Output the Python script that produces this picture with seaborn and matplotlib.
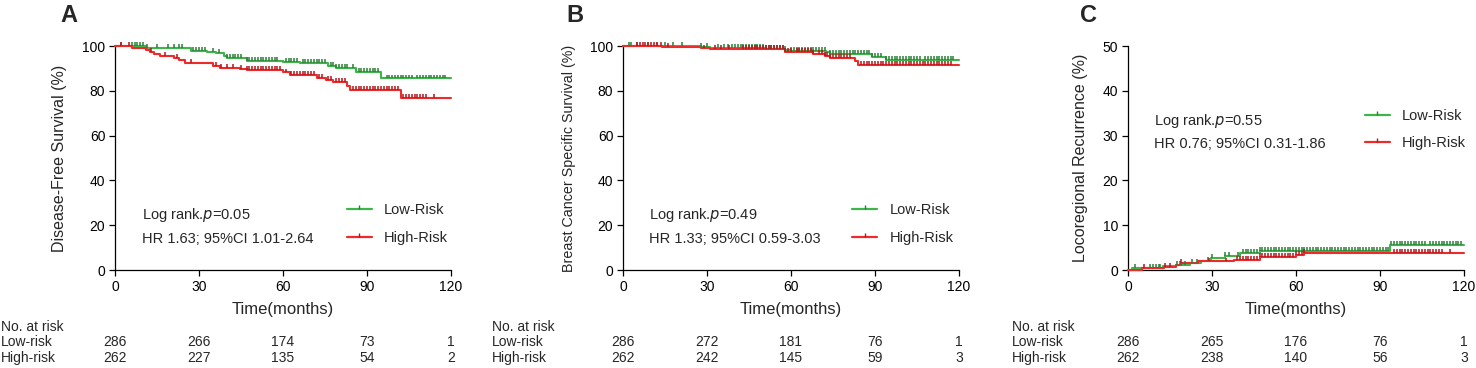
import numpy as np
import pandas as pd
import matplotlib
matplotlib.use("Agg")
import matplotlib.pyplot as plt
import matplotlib.transforms as mtransforms
from matplotlib.lines import Line2D
import seaborn as sns

# ---------------- data ----------------
groups = ["Low-Risk", "High-Risk"]
risk_times = [0, 30, 60, 90, 120]

# Panel A: disease-free survival (step changes)
a_low_t = [0, 11, 27, 33, 36, 39, 40, 47, 60, 66, 76, 79, 86, 95, 120]
a_low_s = [100, 99.3, 97.9, 97.4, 96.7, 95.6, 94.5, 93.5, 92.7, 92.3, 91.0, 90.0, 88.3, 85.5, 85.5]
a_high_t = [0, 6, 11, 12.5, 14, 16, 21, 23, 25, 35, 37.5, 44.5, 47, 60, 62.5, 72, 75.5, 78, 83, 84, 102, 120]
a_high_s = [100, 99.2, 98.3, 97.4, 96.5, 95.5, 94.8, 93.8, 92.3, 91.2, 90.2, 89.6, 89.2, 88.2, 87.1,
            85.9, 84.8, 84.1, 82.2, 80.4, 76.6, 76.6]
a_low_cens = [2, 6, 7, 8, 9, 10, 11.5, 15, 19, 21, 23, 24, 28, 29, 30, 31, 32, 35, 37, 40, 41, 42, 43,
              44, 45, 47, 48, 49, 50, 51, 52, 53, 54, 55, 56, 57, 58, 61, 62, 63, 64, 65, 67, 68, 69,
              70, 71, 72, 73, 74, 75, 77, 78, 79, 80, 81, 82, 83, 85, 87, 88, 89, 90, 91, 92, 93, 94,
              97, 98, 99, 100, 101, 102, 103, 104, 105, 106, 108, 109, 110, 111, 112, 113, 114, 115,
              116, 117, 118]
a_high_cens = [2, 5, 13, 18, 22, 27, 36, 38, 40, 42, 45, 47, 48, 49, 50, 51, 52, 53, 54, 55, 56, 57,
               58, 59, 61, 63, 64, 65, 66, 67, 68, 69, 70, 71, 73, 74, 76, 77, 79, 80, 81, 82, 85, 86,
               87, 88, 89, 90, 91, 92, 93, 94, 95, 96, 97, 98, 99, 100, 101, 103, 104, 105, 106, 107,
               108, 109, 110, 111, 114]
a_risk_low = [286, 266, 174, 73, 1]
a_risk_high = [262, 227, 135, 54, 2]

# Panel B: breast cancer specific survival
b_low_t = [0, 28, 31, 51, 58, 60, 72.5, 74, 89, 94, 120]
b_low_s = [100, 99.6, 99.3, 98.6, 98.1, 97.6, 97.1, 96.5, 95.2, 93.7, 93.7]
b_high_t = [0, 14, 28, 31, 58, 68, 72, 74, 83, 84, 120]
b_high_s = [100, 99.4, 98.9, 98.5, 97.4, 96.5, 95.6, 94.6, 93.1, 91.6, 91.6]
b_low_cens = [2, 3, 5, 9, 12, 15, 18, 21, 28, 30, 34, 36, 37.5, 39, 40, 41, 42, 43, 44, 45, 46, 47,
              48, 49, 50, 51, 52, 53, 54, 55, 56, 57, 58, 60, 61, 62, 63, 64, 65, 66, 67, 68, 69, 70,
              71, 72, 74, 75, 76, 77, 78, 79, 80, 81, 82, 83, 84, 85, 86, 87, 88, 89, 90, 91, 92, 94,
              95, 96, 97, 98, 99, 100, 101, 102, 103, 104, 105, 106, 108, 109, 110, 111, 112, 113,
              114, 115, 116, 117, 118]
b_high_cens = [5, 6, 7, 8, 9, 10, 11, 12, 13.5, 16, 29, 33, 35, 38, 43, 44, 45, 46, 47, 48, 49, 50,
               51, 52, 53, 54, 55, 56, 57, 58, 59, 60, 62, 63, 64, 65, 66, 67, 68, 70, 71, 72, 73, 74,
               75, 76, 77, 78, 79, 80, 81, 85, 86, 87, 88, 89, 90, 91, 92, 93, 94, 95, 96, 97, 98, 99,
               100, 101, 102, 103, 104, 105, 106, 107, 108, 109, 110, 111, 112, 113, 114, 115, 116, 117]
b_risk_low = [286, 272, 181, 76, 1]
b_risk_high = [262, 242, 145, 59, 3]

# Panel C: locoregional recurrence (cumulative)
c_low_t = [0, 1.5, 12.5, 17, 22, 26, 29.5, 34.5, 40, 47, 93.5, 120]
c_low_s = [0, 0.4, 0.8, 1.1, 1.5, 2.1, 2.6, 3.2, 3.7, 4.3, 5.6, 5.6]
c_high_t = [0, 5, 13, 17, 19, 25, 38, 47, 60, 63, 120]
c_high_s = [0, 0.4, 0.7, 1.1, 1.5, 1.9, 2.3, 2.9, 3.4, 3.9, 3.9]
c_low_cens = [2.6, 8, 9, 10, 11, 11.5, 17.5, 18.6, 20.4, 22.8, 24.6, 28.7, 30, 34.7, 35.9, 39.4, 41,
              42, 43, 44, 45, 46, 47, 48, 49, 50, 51, 52, 53, 54, 55, 56, 57, 58, 59, 60, 61, 62, 63,
              64, 65, 66, 67, 68, 69, 70, 71, 72, 73, 74, 75, 76, 77, 78, 79, 80, 81, 82, 83, 84, 85,
              86, 87, 88, 89, 90, 91, 92, 93, 94, 95, 96, 97, 98, 99, 100, 101, 102, 103, 104, 105,
              106, 108, 109, 110, 111, 112, 113, 114, 115, 116, 117, 118, 119]
c_high_cens = [5.6, 13.3, 15, 19, 29, 35, 39, 40, 41, 42, 43, 44, 45, 46, 47, 48, 49, 50, 51, 52, 53,
               54, 55, 56, 57, 58, 59, 60, 61, 62, 63, 95, 96, 97, 98, 99, 100, 101, 102, 103, 104,
               105, 106, 107, 108, 109, 110, 111, 112, 115]
c_risk_low = [286, 265, 176, 76, 1]
c_risk_high = [262, 238, 140, 56, 3]

colors = {"Low-Risk": "#3DB54A", "High-Risk": "#EE2A2A"}
tick_colors = {"Low-Risk": "#2B7F37", "High-Risk": "#B3161C"}

# ---------------- style ----------------
sns.set_style("ticks")
plt.rcParams["font.family"] = ["Liberation Sans", "DejaVu Sans"]
plt.rcParams["axes.linewidth"] = 0.9
plt.rcParams["xtick.major.width"] = 0.9
plt.rcParams["ytick.major.width"] = 0.9
plt.rcParams["xtick.major.size"] = 4
plt.rcParams["ytick.major.size"] = 4
plt.rcParams["xtick.color"] = "black"
plt.rcParams["ytick.color"] = "black"
plt.rcParams["axes.edgecolor"] = "black"


def step_value(times, vals, t):
    idx = np.searchsorted(times, t, side="right") - 1
    return np.asarray(vals)[idx]


def draw_panel(ax, curves, cens, ymax, ylab, ylab_size, ylab_x, txt_pos, leg_anchor, stats):
    frames = []
    cframes = []
    for g, (t, s) in zip(groups, curves):
        frames.append(pd.DataFrame({"time": t, "value": s, "group": g}))
    for g, (t, s), c in zip(groups, curves, cens):
        cframes.append(pd.DataFrame({"time": c, "value": step_value(t, s, c), "group": g}))
    df = pd.concat(frames)
    cdf = pd.concat(cframes)

    sns.lineplot(data=df, x="time", y="value", hue="group", palette=colors,
                 drawstyle="steps-post", estimator=None, sort=False, lw=1.5,
                 legend=False, ax=ax, clip_on=False, zorder=3)
    sns.scatterplot(data=cdf, x="time", y="value", hue="group", palette=tick_colors,
                    marker=2, s=8, linewidth=1.1, legend=False, ax=ax,
                    clip_on=False, zorder=4)

    ax.set_xlim(0, 120)
    ax.set_ylim(0, ymax)
    ax.set_xticks(risk_times)
    ax.set_yticks(np.linspace(0, ymax, 6))
    ax.tick_params(labelsize=10, pad=3)
    sns.despine(ax=ax)
    ax.set_xlabel("Time(months)", fontsize=12, labelpad=6)
    ax.set_ylabel(ylab, fontsize=ylab_size)
    ax.yaxis.set_label_coords(ylab_x, 0.5)

    ax.text(txt_pos[0], txt_pos[1], stats[0], transform=ax.transAxes, fontsize=10.5,
            va="center", ha="left")
    ax.text(txt_pos[0], txt_pos[2], stats[1], transform=ax.transAxes, fontsize=10.5,
            va="center", ha="left")

    handles = [Line2D([0], [0], color=colors[g], lw=1.6, marker=2, markersize=3,
                      markeredgewidth=1.0, markeredgecolor=tick_colors[g]) for g in groups]
    ax.legend(handles, groups, loc="center left", bbox_to_anchor=leg_anchor, frameon=False,
              fontsize=10.5, handlelength=1.7, handletextpad=0.85, labelspacing=0.95,
              numpoints=1, borderaxespad=0, borderpad=0)


fig = plt.figure(figsize=(14.76, 3.68), dpi=100)
W, H = 1476, 368
lefts = [115, 623, 1128]
axes = [fig.add_axes([l / W, (H - 270) / H, 336 / W, 224 / H]) for l in lefts]

draw_panel(axes[0], [(a_low_t, a_low_s), (a_high_t, a_high_s)], [a_low_cens, a_high_cens],
           100, "Disease-Free Survival (%)", 11.5, -0.143, (0.08, 0.245, 0.138), (0.69, 0.205),
           [r"Log rank.$\it{p}$=0.05", "HR 1.63; 95%CI 1.01-2.64"])
draw_panel(axes[1], [(b_low_t, b_low_s), (b_high_t, b_high_s)], [b_low_cens, b_high_cens],
           100, "Breast Cancer Specific Survival (%)", 10.3, -0.14, (0.077, 0.245, 0.138),
           (0.683, 0.205), [r"Log rank.$\it{p}$=0.49", "HR 1.33; 95%CI 0.59-3.03"])
draw_panel(axes[2], [(c_low_t, c_low_s), (c_high_t, c_high_s)], [c_low_cens, c_high_cens],
           50, "Locoregional Recurrence (%)", 11.5, -0.119, (0.077, 0.667, 0.564),
           (0.705, 0.627), [r"Log rank.$\it{p}$=0.55", "HR 0.76; 95%CI 0.31-1.86"])

# risk tables
row_lefts = [1, 492, 1012]
tables = [(a_risk_low, a_risk_high), (b_risk_low, b_risk_high), (c_risk_low, c_risk_high)]
for ax, rl, (low, high) in zip(axes, row_lefts, tables):
    trans = mtransforms.blended_transform_factory(ax.transData, ax.transAxes)
    for t, n1, n2 in zip(risk_times, low, high):
        ax.text(t, (270 - 342) / 224, str(n1), transform=trans, ha="center", va="center",
                fontsize=10, clip_on=False)
        ax.text(t, (270 - 358) / 224, str(n2), transform=trans, ha="center", va="center",
                fontsize=10, clip_on=False)
    fig.text(rl / W, 1 - 327 / H, "No. at risk", ha="left", va="center", fontsize=10)
    fig.text(rl / W, 1 - 342 / H, "Low-risk", ha="left", va="center", fontsize=10)
    fig.text(rl / W, 1 - 358 / H, "High-risk", ha="left", va="center", fontsize=10)

for x, letter in zip([60, 566, 1080], ["A", "B", "C"]):
    fig.text(x / W, 1 - 16 / H, letter, ha="left", va="center", fontsize=17, fontweight="bold")

fig.savefig("out.png", dpi=100)
